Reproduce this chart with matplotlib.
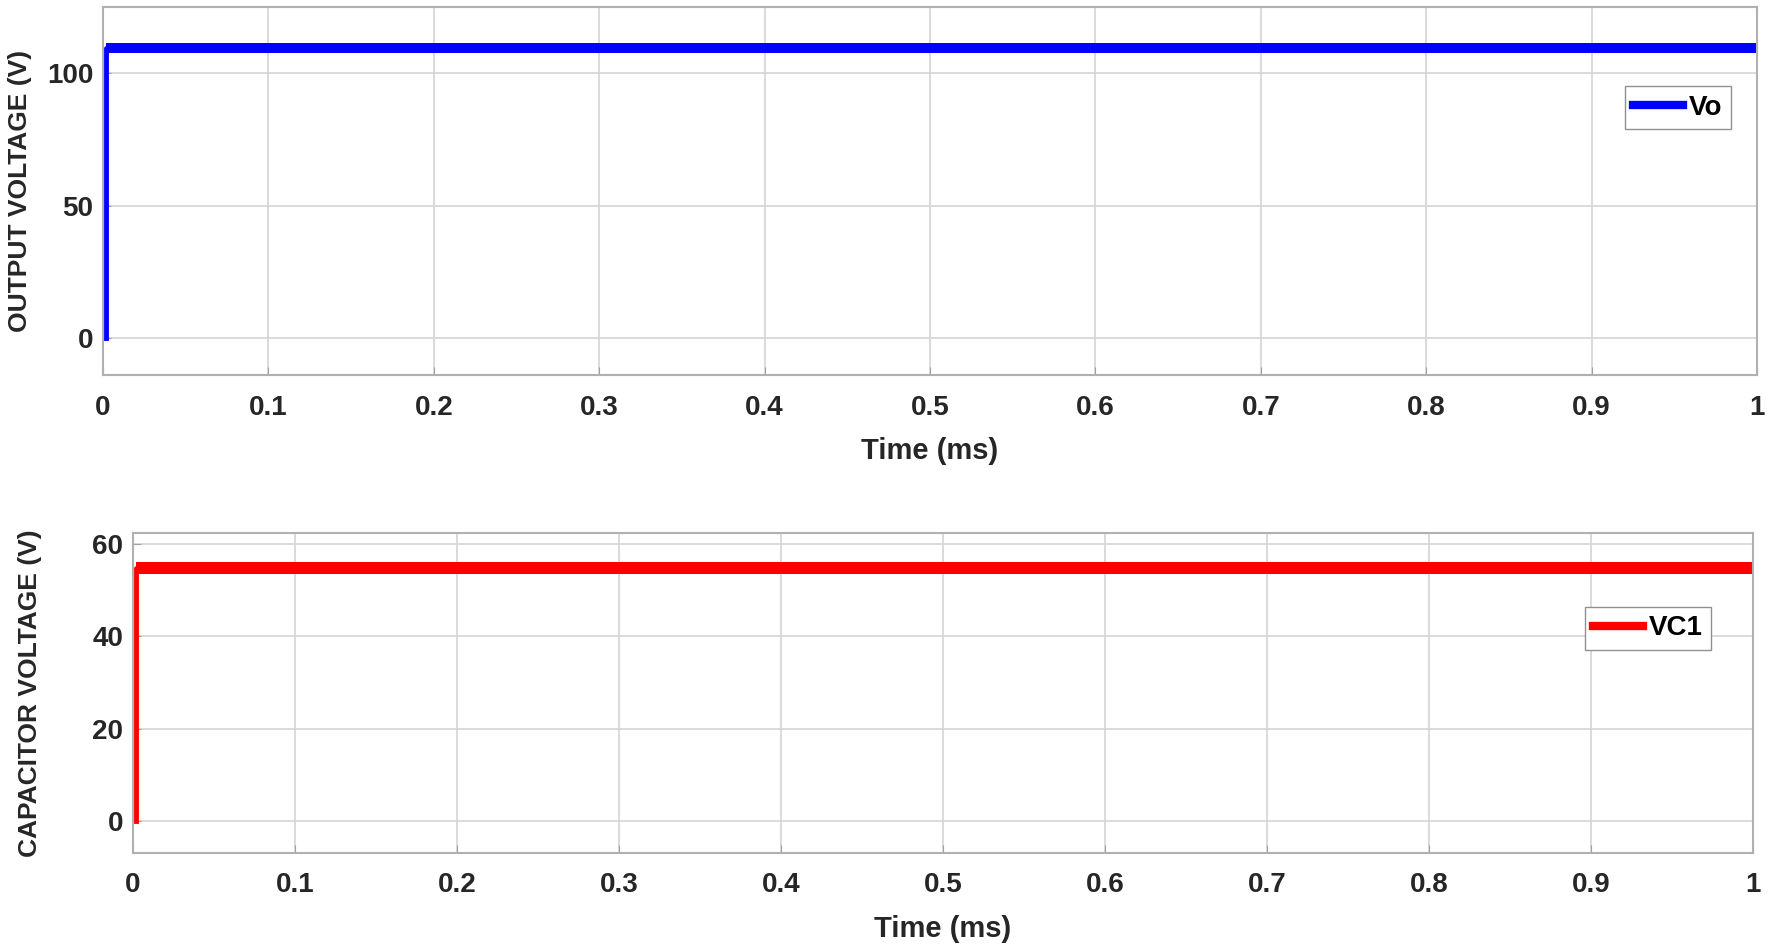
import numpy as np
import matplotlib
matplotlib.use("Agg")
from matplotlib import pyplot as plt

# donnees (temps en ms, tensions en V)
t = [0.002, 0.002, 1.0]
vo = [0.0, 109.5, 109.5]
vc1 = [0.0, 54.8, 54.8]

# bande d'ondulation (min / max)
t_band = [0.002, 1.0]
vo_lo = [107.5, 107.5]
vo_hi = [111.5, 111.5]
vc1_lo = [53.5, 53.5]
vc1_hi = [56.1, 56.1]

xticks = [0, 0.1, 0.2, 0.3, 0.4, 0.5, 0.6, 0.7, 0.8, 0.9, 1]
xticklabels = ['0', '0.1', '0.2', '0.3', '0.4', '0.5', '0.6', '0.7', '0.8', '0.9', '1']

plt.rcParams['font.family'] = ['Liberation Sans', 'DejaVu Sans']
txt = '#262626'

fig = plt.figure(figsize=(17.7, 9.52), dpi=100)
ax1 = fig.add_axes([0.0582, 0.606, 0.9345, 0.3866])
ax2 = fig.add_axes([0.0751, 0.104, 0.9153, 0.336])


def style(ax):
    ax.set_xlim(0, 1)
    ax.set_xticks(xticks)
    ax.set_xticklabels(xticklabels)
    ax.grid(True, color='#d4d4d4', lw=1.2)
    ax.set_axisbelow(True)
    for s in ax.spines.values():
        s.set_color('#b0b0b0')
        s.set_linewidth(1.5)
    ax.tick_params(direction='in', length=6, color='#a0a0a0', labelsize=20, labelcolor=txt)
    ax.tick_params(axis='x', pad=14)
    ax.tick_params(axis='y', pad=7)
    for lab in ax.get_xticklabels() + ax.get_yticklabels():
        lab.set_fontweight('bold')
    ax.set_xlabel('Time (ms)', fontsize=21, fontweight='bold', color=txt, labelpad=12)


ax1.fill_between(t_band, vo_lo, vo_hi, color='#0000ff', lw=0)
ax1.plot(t, vo, color='#0000ff', lw=3.5, label='Vo')
ax1.set_ylim(-14, 125)
ax1.set_yticks([0, 50, 100])
style(ax1)
ax1.set_ylabel('OUTPUT VOLTAGE (V)', fontsize=19, fontweight='bold', color=txt)
ax1.yaxis.set_label_coords(-0.043, 0.5)
leg1 = ax1.legend(loc='upper right', bbox_to_anchor=(0.984, 0.785), prop={'size': 20, 'weight': 'bold'},
                  handlelength=1.8, handletextpad=0.2, borderpad=0.3, borderaxespad=0, fancybox=False,
                  edgecolor='#909090', framealpha=1)
for h in leg1.legend_handles:
    h.set_linewidth(6)

ax2.fill_between(t_band, vc1_lo, vc1_hi, color='#ff0000', lw=0)
ax2.plot(t, vc1, color='#ff0000', lw=3.5, label='VC1')
ax2.set_ylim(-7, 62.4)
ax2.set_yticks([0, 20, 40, 60])
style(ax2)
ax2.set_ylabel('CAPACITOR VOLTAGE (V)', fontsize=19, fontweight='bold', color=txt)
ax2.yaxis.set_label_coords(-0.056, 0.5)
leg2 = ax2.legend(loc='upper right', bbox_to_anchor=(0.974, 0.769), prop={'size': 20, 'weight': 'bold'},
                  handlelength=1.8, handletextpad=0.2, borderpad=0.3, borderaxespad=0, fancybox=False,
                  edgecolor='#909090', framealpha=1)
for h in leg2.legend_handles:
    h.set_linewidth(6)

fig.savefig('out.png', dpi=100)
